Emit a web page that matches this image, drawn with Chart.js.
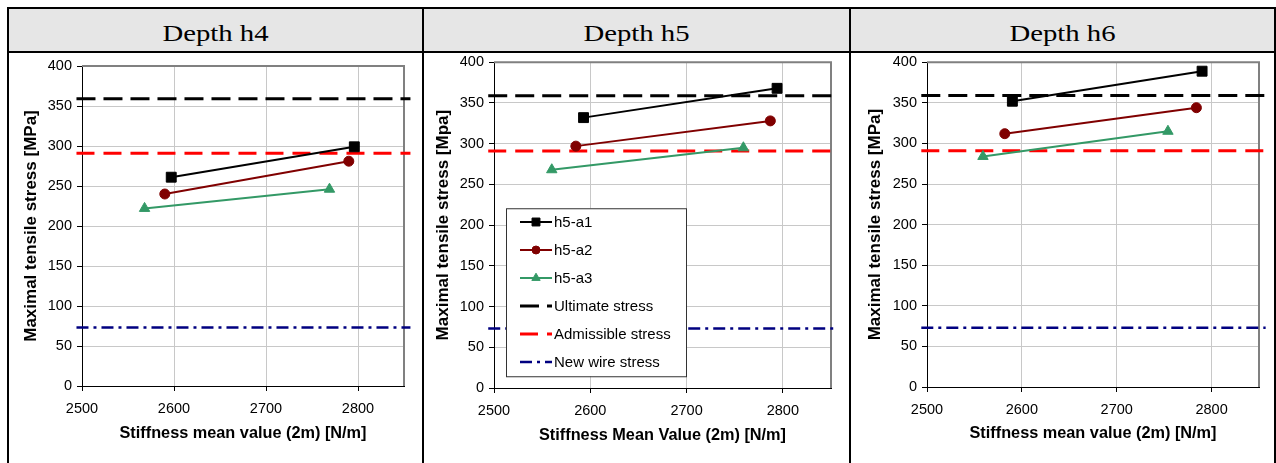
<!DOCTYPE html>
<html><head><meta charset="utf-8">
<script src="https://cdn.jsdelivr.net/npm/chart.js@4/dist/chart.umd.min.js"></script>
<style>
html,body{margin:0;padding:0;background:#fff;width:1276px;height:463px;overflow:hidden;position:relative}
.ln{position:absolute;background:#000}
.hd{position:absolute;top:9px;height:42px;background:#e6e6e6;display:flex;align-items:center;justify-content:center;font-family:"Liberation Serif","Times New Roman",serif;font-size:23px;color:#000}
.hd span{display:inline-block;transform:scaleX(1.25);position:relative;top:4px}
canvas{position:absolute;top:50px}
</style></head><body>
<div class="hd" id="hd1" style="left:9px;width:413px"><span></span></div>
<div class="hd" id="hd2" style="left:424px;width:425px"><span></span></div>
<div class="hd" id="hd3" style="left:851px;width:423px"><span></span></div>
<div class="ln" style="left:7px;top:7px;width:1269px;height:2px"></div>
<div class="ln" style="left:7px;top:51px;width:1269px;height:2px"></div>
<div class="ln" style="left:7px;top:7px;width:2px;height:456px"></div>
<div class="ln" style="left:422px;top:7px;width:2px;height:456px"></div>
<div class="ln" style="left:849px;top:7px;width:2px;height:456px"></div>
<div class="ln" style="left:1274px;top:7px;width:2px;height:456px"></div>
<canvas id="c1" width="412" height="413" style="left:10px"></canvas>
<canvas id="c2" width="424" height="413" style="left:425px"></canvas>
<canvas id="c3" width="422" height="413" style="left:852px"></canvas>
<script>
// ---- data ----
const panelTitles = ['Depth h4', 'Depth h5', 'Depth h6'];
const xTickValues = [2500, 2600, 2700, 2800];
const xRange = [2500, 2850];
const yRange = [0, 400];
const yStep = 50;
const refX = [2494, 2857];
const ultimateStress = 359;
const admissibleStress = 291;
const newWireStress = 73;
const refLabels = ['Ultimate stress', 'Admissible stress', 'New wire stress'];
const seriesLabels = ['h5-a1', 'h5-a2', 'h5-a3'];

const h4_a1_x = [2597, 2796], h4_a1_y = [261, 299];
const h4_a2_x = [2590, 2790], h4_a2_y = [240, 281];
const h4_a3_x = [2568, 2769], h4_a3_y = [222, 246];

const h5_a1_x = [2593, 2794], h5_a1_y = [332, 368];
const h5_a2_x = [2585, 2787], h5_a2_y = [297, 328];
const h5_a3_x = [2560, 2759], h5_a3_y = [268, 295];

const h6_a1_x = [2590, 2790], h6_a1_y = [352, 389];
const h6_a2_x = [2582, 2784], h6_a2_y = [312, 344];
const h6_a3_x = [2559, 2754], h6_a3_y = [284, 315];

const yTitles = ['Maximal tensile stress [MPa]', 'Maximal tensile stress [Mpa]', 'Maximal tensile stress [MPa]'];
const xTitles = ['Stiffness mean value (2m) [N/m]', 'Stiffness Mean Value (2m) [N/m]', 'Stiffness mean value (2m) [N/m]'];

// ---- styles ----
const FONT = '"Liberation Sans", Arial, sans-serif';
const seriesStyles = [
  {color: '#000000', pointStyle: 'rect', radius: 7},
  {color: '#800000', pointStyle: 'circle', radius: 5},
  {color: '#339966', pointStyle: 'triangle', radius: 6}
];
const refStyles = [
  {color: '#000000', dash: [19, 8], width: 3},
  {color: '#ff0000', dash: [18, 9], width: 3},
  {color: '#000080', dash: [12, 5, 3, 5], width: 2.5}
];

function pts(xs, ys) { return xs.map((x, i) => ({x: x, y: ys[i]})); }

function buildDatasets(series) {
  const ds = series.map((s, i) => ({
    label: seriesLabels[i],
    data: pts(s[0], s[1]),
    borderColor: seriesStyles[i].color,
    backgroundColor: seriesStyles[i].color,
    pointBackgroundColor: seriesStyles[i].color,
    pointBorderColor: seriesStyles[i].color,
    pointStyle: seriesStyles[i].pointStyle,
    pointRadius: seriesStyles[i].radius,
    pointBorderWidth: 1,
    borderWidth: 2,
    tension: 0
  }));
  const refVals = [ultimateStress, admissibleStress, newWireStress];
  refVals.forEach((v, i) => {
    ds.push({
      label: refLabels[i],
      data: refX.map(x => ({x: x, y: v})),
      borderColor: refStyles[i].color,
      backgroundColor: refStyles[i].color,
      borderDash: refStyles[i].dash,
      borderWidth: refStyles[i].width,
      pointRadius: 0,
      clip: false
    });
  });
  return ds;
}

const plotBorder = {
  id: 'plotBorder',
  beforeDatasetsDraw(chart) {
    const {ctx, chartArea: a} = chart;
    ctx.save();
    ctx.strokeStyle = '#808080';
    ctx.lineWidth = 2;
    ctx.beginPath();
    ctx.moveTo(a.left, a.top); ctx.lineTo(a.right, a.top); ctx.lineTo(a.right, a.bottom);
    ctx.stroke();
    ctx.restore();
  }
};

const boxLegend = {
  id: 'boxLegend',
  afterDatasetsDraw(chart, args, opts) {
    if (!opts.show) return;
    const {ctx, chartArea: a} = chart;
    const L = a.left + 12, T = a.top + 146, W = 180, H = 168;
    ctx.save();
    ctx.fillStyle = '#fff';
    ctx.fillRect(L, T, W, H);
    ctx.strokeStyle = '#333';
    ctx.lineWidth = 1;
    ctx.strokeRect(L + 0.5, T + 0.5, W, H);
    chart.data.datasets.forEach((d, i) => {
      const y = Math.round(T + 14 + i * 27.9);
      const x0 = L + 14, x1 = L + 46;
      ctx.save();
      ctx.strokeStyle = d.borderColor;
      ctx.lineWidth = d.borderWidth;
      ctx.setLineDash(d.borderDash || []);
      ctx.beginPath(); ctx.moveTo(x0, y); ctx.lineTo(x1, y); ctx.stroke();
      ctx.setLineDash([]);
      if (d.pointRadius) {
        ctx.fillStyle = d.pointBackgroundColor;
        ctx.strokeStyle = d.pointBorderColor;
        ctx.lineWidth = 1;
        Chart.helpers.drawPoint(ctx, {pointStyle: d.pointStyle, radius: d.pointRadius * 0.8, rotation: 0, borderWidth: 1}, (x0 + x1) / 2, y);
      }
      ctx.restore();
      ctx.fillStyle = '#000';
      ctx.font = '15px ' + FONT;
      ctx.textBaseline = 'middle';
      ctx.textAlign = 'left';
      ctx.fillText(d.label, x1 + 2, y + 1);
    });
    ctx.restore();
  }
};

function makeChart(id, idx, series, cfg) {
  document.querySelector('#hd' + (idx + 1) + ' span').textContent = panelTitles[idx];
  new Chart(document.getElementById(id), {
    type: 'line',
    data: {datasets: buildDatasets(series)},
    options: {
      responsive: false, animation: false, devicePixelRatio: 1,
      layout: {padding: {top: cfg.padTop, right: cfg.padRight, left: 0, bottom: 0}},
      plugins: {legend: {display: false}, tooltip: {enabled: false}, boxLegend: {show: cfg.legend}},
      scales: {
        x: {
          type: 'linear', position: 'bottom', min: xRange[0], max: xRange[1],
          afterBuildTicks: s => { s.ticks = xTickValues.map(v => ({value: v})); },
          afterFit: s => { s.height = cfg.xH; },
          ticks: {font: {family: FONT, size: 14.5}, color: '#000', padding: 9, maxRotation: 0, autoSkip: false,
                  callback: v => String(v)},
          grid: {color: '#c8c8c8', lineWidth: 1, tickLength: 5, tickColor: '#000', drawTicks: true},
          border: {color: '#000', width: 1},
          title: {display: true, text: xTitles[idx], color: '#000', font: {family: FONT, size: 16.3, weight: 'bold'}, padding: {top: 0, bottom: cfg.xTitlePad}}
        },
        y: {
          type: 'linear', position: 'left', min: yRange[0], max: yRange[1],
          afterFit: s => { s.width = cfg.yW; },
          ticks: {stepSize: yStep, font: {family: FONT, size: 14.5, lineHeight: 1}, color: '#000', padding: 5,
                  callback: v => String(v)},
          grid: {color: '#c8c8c8', lineWidth: 1, tickLength: 5, tickColor: '#000', drawTicks: true},
          border: {color: '#000', width: 1},
          title: {display: true, text: yTitles[idx], color: '#000', font: {family: FONT, size: 17, weight: 'bold'}, padding: {top: cfg.yTitlePad, bottom: 0}}
        }
      }
    },
    plugins: [plotBorder, boxLegend]
  });
}

makeChart('c1', 0, [[h4_a1_x, h4_a1_y], [h4_a2_x, h4_a2_y], [h4_a3_x, h4_a3_y]],
  {padTop: 16, padRight: 18, yW: 72, xH: 77, yTitlePad: 10.8, xTitlePad: 20.2, legend: false});
makeChart('c2', 1, [[h5_a1_x, h5_a1_y], [h5_a2_x, h5_a2_y], [h5_a3_x, h5_a3_y]],
  {padTop: 12, padRight: 18, yW: 69, xH: 75, yTitlePad: 7.8, xTitlePad: 18.2, legend: true});
makeChart('c3', 2, [[h6_a1_x, h6_a1_y], [h6_a2_x, h6_a2_y], [h6_a3_x, h6_a3_y]],
  {padTop: 12, padRight: 15, yW: 75, xH: 76, yTitlePad: 12.8, xTitlePad: 20.2, legend: false});
</script>
</body></html>
